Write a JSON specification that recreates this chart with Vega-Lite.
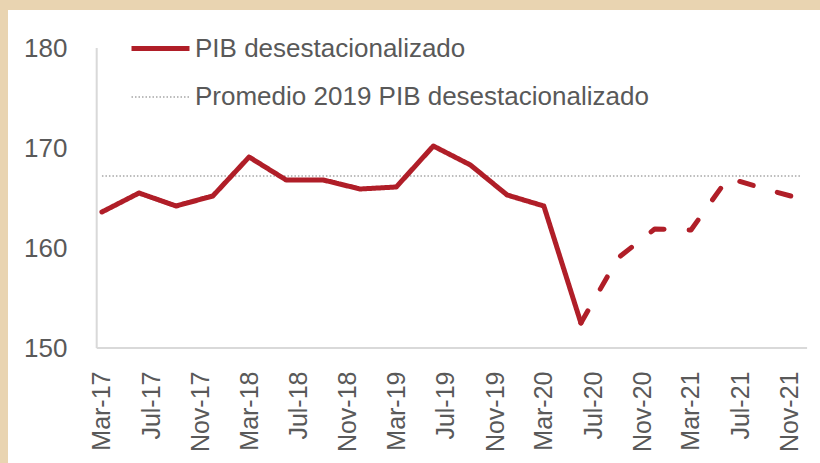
{
  "$schema": "https://vega.github.io/schema/vega-lite/v6.json",
  "width": 812,
  "height": 453,
  "autosize": {"type": "none"},
  "padding": {"left": 8, "top": 10, "right": 0, "bottom": 0},
  "background": "#E9D4B1",
  "config": {
    "view": {"stroke": null, "fill": "white"},
    "font": "Liberation Sans",
    "axis": {"labelColor": "#595959", "labelFont": "Liberation Sans", "grid": false, "domain": false, "ticks": false, "tickSize": 0},
    "legend": {"orient": "none", "legendX": 121, "legendY": 7, "title": null, "padding": 0, "rowPadding": 5,
      "symbolType": "stroke", "symbolSize": 3364, "labelOffset": 3, "labelFontSize": 26, "labelColor": "#595959", "labelFont": "Liberation Sans", "labelLimit": 600}
  },
  "datasets": {
    "pib": [
      {"fecha": "2017-03-01T00:00:00", "valor": 163.6, "serie": "PIB desestacionalizado"},
      {"fecha": "2017-06-01T00:00:00", "valor": 165.5, "serie": "PIB desestacionalizado"},
      {"fecha": "2017-09-01T00:00:00", "valor": 164.2, "serie": "PIB desestacionalizado"},
      {"fecha": "2017-12-01T00:00:00", "valor": 165.2, "serie": "PIB desestacionalizado"},
      {"fecha": "2018-03-01T00:00:00", "valor": 169.1, "serie": "PIB desestacionalizado"},
      {"fecha": "2018-06-01T00:00:00", "valor": 166.8, "serie": "PIB desestacionalizado"},
      {"fecha": "2018-09-01T00:00:00", "valor": 166.8, "serie": "PIB desestacionalizado"},
      {"fecha": "2018-12-01T00:00:00", "valor": 165.9, "serie": "PIB desestacionalizado"},
      {"fecha": "2019-03-01T00:00:00", "valor": 166.1, "serie": "PIB desestacionalizado"},
      {"fecha": "2019-06-01T00:00:00", "valor": 170.2, "serie": "PIB desestacionalizado"},
      {"fecha": "2019-09-01T00:00:00", "valor": 168.3, "serie": "PIB desestacionalizado"},
      {"fecha": "2019-12-01T00:00:00", "valor": 165.3, "serie": "PIB desestacionalizado"},
      {"fecha": "2020-03-01T00:00:00", "valor": 164.2, "serie": "PIB desestacionalizado"},
      {"fecha": "2020-06-01T00:00:00", "valor": 152.5, "serie": "PIB desestacionalizado"},
      {"fecha": "2020-09-01T00:00:00", "valor": 159.0, "serie": "PIB desestacionalizado"},
      {"fecha": "2020-12-01T00:00:00", "valor": 161.9, "serie": "PIB desestacionalizado"},
      {"fecha": "2021-03-01T00:00:00", "valor": 161.8, "serie": "PIB desestacionalizado"},
      {"fecha": "2021-06-01T00:00:00", "valor": 167.0, "serie": "PIB desestacionalizado"},
      {"fecha": "2021-09-01T00:00:00", "valor": 165.9, "serie": "PIB desestacionalizado"},
      {"fecha": "2021-12-01T00:00:00", "valor": 164.9, "serie": "PIB desestacionalizado"}
    ],
    "prom": [
      {"fecha": "2017-03-01T00:00:00", "valor": 167.2, "serie": "Promedio 2019 PIB desestacionalizado"},
      {"fecha": "2017-06-01T00:00:00", "valor": 167.2, "serie": "Promedio 2019 PIB desestacionalizado"},
      {"fecha": "2017-09-01T00:00:00", "valor": 167.2, "serie": "Promedio 2019 PIB desestacionalizado"},
      {"fecha": "2017-12-01T00:00:00", "valor": 167.2, "serie": "Promedio 2019 PIB desestacionalizado"},
      {"fecha": "2018-03-01T00:00:00", "valor": 167.2, "serie": "Promedio 2019 PIB desestacionalizado"},
      {"fecha": "2018-06-01T00:00:00", "valor": 167.2, "serie": "Promedio 2019 PIB desestacionalizado"},
      {"fecha": "2018-09-01T00:00:00", "valor": 167.2, "serie": "Promedio 2019 PIB desestacionalizado"},
      {"fecha": "2018-12-01T00:00:00", "valor": 167.2, "serie": "Promedio 2019 PIB desestacionalizado"},
      {"fecha": "2019-03-01T00:00:00", "valor": 167.2, "serie": "Promedio 2019 PIB desestacionalizado"},
      {"fecha": "2019-06-01T00:00:00", "valor": 167.2, "serie": "Promedio 2019 PIB desestacionalizado"},
      {"fecha": "2019-09-01T00:00:00", "valor": 167.2, "serie": "Promedio 2019 PIB desestacionalizado"},
      {"fecha": "2019-12-01T00:00:00", "valor": 167.2, "serie": "Promedio 2019 PIB desestacionalizado"},
      {"fecha": "2020-03-01T00:00:00", "valor": 167.2, "serie": "Promedio 2019 PIB desestacionalizado"},
      {"fecha": "2020-06-01T00:00:00", "valor": 167.2, "serie": "Promedio 2019 PIB desestacionalizado"},
      {"fecha": "2020-09-01T00:00:00", "valor": 167.2, "serie": "Promedio 2019 PIB desestacionalizado"},
      {"fecha": "2020-12-01T00:00:00", "valor": 167.2, "serie": "Promedio 2019 PIB desestacionalizado"},
      {"fecha": "2021-03-01T00:00:00", "valor": 167.2, "serie": "Promedio 2019 PIB desestacionalizado"},
      {"fecha": "2021-06-01T00:00:00", "valor": 167.2, "serie": "Promedio 2019 PIB desestacionalizado"},
      {"fecha": "2021-09-01T00:00:00", "valor": 167.2, "serie": "Promedio 2019 PIB desestacionalizado"},
      {"fecha": "2021-12-01T00:00:00", "valor": 167.2, "serie": "Promedio 2019 PIB desestacionalizado"}
    ]
  },
  "layer": [
    {
      "data": {"name": "prom"},
      "mark": {"type": "line"},
      "encoding": {
        "x": {
          "field": "fecha", "type": "temporal", "title": null,
          "scale": {"domain": [{"year": 2016, "month": 7, "date": 11}, {"year": 2022, "month": 1, "date": 15}], "nice": false},
          "axis": {
            "orient": "bottom", "offset": -115, "labelAngle": -90, "labelPadding": 23,
            "format": "%b-%y", "labelFontSize": 25, "labelFlush": false, "labelOverlap": false, "labelBound": false,
            "values": [
              {"year": 2017, "month": 3, "date": 1}, {"year": 2017, "month": 7, "date": 1}, {"year": 2017, "month": 11, "date": 1},
              {"year": 2018, "month": 3, "date": 1}, {"year": 2018, "month": 7, "date": 1}, {"year": 2018, "month": 11, "date": 1},
              {"year": 2019, "month": 3, "date": 1}, {"year": 2019, "month": 7, "date": 1}, {"year": 2019, "month": 11, "date": 1},
              {"year": 2020, "month": 3, "date": 1}, {"year": 2020, "month": 7, "date": 1}, {"year": 2020, "month": 11, "date": 1},
              {"year": 2021, "month": 3, "date": 1}, {"year": 2021, "month": 7, "date": 1}, {"year": 2021, "month": 11, "date": 1}
            ]
          }
        },
        "y": {
          "field": "valor", "type": "quantitative", "title": null,
          "scale": {"domain": [138.5, 183.8], "nice": false, "zero": false},
          "axis": {"orient": "left", "offset": -59, "labelPadding": 0, "values": [150, 160, 170, 180], "labelFontSize": 26}
        },
        "color": {"field": "serie", "type": "nominal", "scale": {"domain": ["PIB desestacionalizado", "Promedio 2019 PIB desestacionalizado"], "range": ["#B01E28", "#A6A6A6"]}},
        "strokeDash": {"field": "serie", "type": "nominal", "scale": {"domain": ["PIB desestacionalizado", "Promedio 2019 PIB desestacionalizado"], "range": [[1, 0], [1.5, 2]]}},
        "strokeWidth": {"field": "serie", "type": "ordinal", "scale": {"domain": ["PIB desestacionalizado", "Promedio 2019 PIB desestacionalizado"], "range": [5, 1.5]}}
      }
    },
    {
      "data": {"values": [{"eje": "y"}]},
      "mark": {"type": "rule", "color": "#D9D9D9", "strokeWidth": 2},
      "encoding": {
        "x": {"datum": {"year": 2017, "month": 2, "date": 16}, "type": "temporal"},
        "y": {"datum": 150, "type": "quantitative"},
        "y2": {"datum": 180}
      }
    },
    {
      "data": {"values": [{"eje": "x"}]},
      "mark": {"type": "rule", "color": "#D9D9D9", "strokeWidth": 2},
      "encoding": {
        "x": {"datum": {"year": 2017, "month": 2, "date": 16}, "type": "temporal"},
        "x2": {"datum": {"year": 2021, "month": 12, "date": 14}},
        "y": {"datum": 150, "type": "quantitative"}
      }
    },
    {
      "data": {"name": "pib"},
      "transform": [{"filter": {"field": "fecha", "lte": {"year": 2020, "month": 6, "date": 1}}}],
      "mark": {"type": "line", "strokeCap": "round", "strokeJoin": "round"},
      "encoding": {
        "x": {"field": "fecha", "type": "temporal"},
        "y": {"field": "valor", "type": "quantitative"},
        "color": {"field": "serie", "type": "nominal"},
        "strokeDash": {"field": "serie", "type": "nominal"},
        "strokeWidth": {"field": "serie", "type": "ordinal"}
      }
    },
    {
      "data": {"name": "pib"},
      "transform": [{"filter": {"field": "fecha", "gte": {"year": 2020, "month": 6, "date": 1}}}],
      "mark": {"type": "line", "color": "#B01E28", "strokeWidth": 5, "strokeDash": [14, 25], "strokeCap": "round", "strokeJoin": "round"},
      "encoding": {
        "x": {"field": "fecha", "type": "temporal"},
        "y": {"field": "valor", "type": "quantitative"}
      }
    }
  ]
}
